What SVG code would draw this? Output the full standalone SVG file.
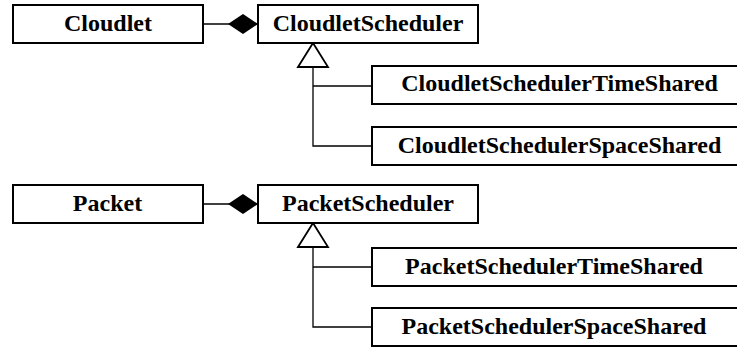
<svg xmlns="http://www.w3.org/2000/svg" width="737" height="348" viewBox="0 0 737 348">
<defs>
<style>
.box{fill:#fff;stroke:#000;stroke-width:2}
.lbl{font-family:'Liberation Serif','Times New Roman','DejaVu Serif',serif;font-weight:700;font-size:24px;fill:#000;text-anchor:middle}
.conn{fill:none;stroke:#000;stroke-width:1.3}
</style>
<marker id="diamond" markerUnits="userSpaceOnUse" viewBox="0 0 30 20" refX="30" refY="10" markerWidth="30" markerHeight="20" orient="auto">
<path d="M0,10 L15,0 L30,10 L15,20 Z" fill="#000"/>
</marker>
<marker id="gen" markerUnits="userSpaceOnUse" viewBox="-2 -2 28 34" refX="24" refY="15" markerWidth="28" markerHeight="34" orient="auto">
<path d="M0,0 L24,15 L0,30 Z" fill="#fff" stroke="#000" stroke-width="1.8"/>
</marker>
</defs>
<g id="connectors">
<path class="conn" d="M203,24 H258" marker-end="url(#diamond)"/>
<path class="conn" d="M372,146 H313 V43" marker-end="url(#gen)"/>
<path class="conn" d="M372,86 H313"/>
<path class="conn" d="M203,204 H258" marker-end="url(#diamond)"/>
<path class="conn" d="M372,327 H313 V223" marker-end="url(#gen)"/>
<path class="conn" d="M372,267 H313"/>
</g>
<g id="Cloudlet"><rect class="box" x="13" y="5" width="190" height="38"/><text class="lbl" x="108" y="31">Cloudlet</text></g>
<g id="CloudletScheduler"><rect class="box" x="258" y="5" width="220" height="38"/><text class="lbl" x="368" y="31">CloudletScheduler</text></g>
<g id="CloudletSchedulerTimeShared"><rect class="box" x="372" y="66" width="366" height="38"/><text class="lbl" x="559.5" y="91">CloudletSchedulerTimeShared</text></g>
<g id="CloudletSchedulerSpaceShared"><rect class="box" x="372" y="127" width="366" height="38"/><text class="lbl" x="559.5" y="153">CloudletSchedulerSpaceShared</text></g>
<g id="Packet"><rect class="box" x="13" y="185" width="190" height="38"/><text class="lbl" x="107.5" y="211">Packet</text></g>
<g id="PacketScheduler"><rect class="box" x="258" y="185" width="220" height="38"/><text class="lbl" x="368" y="211">PacketScheduler</text></g>
<g id="PacketSchedulerTimeShared"><rect class="box" x="372" y="248" width="366" height="38"/><text class="lbl" x="554" y="273.5">PacketSchedulerTimeShared</text></g>
<g id="PacketSchedulerSpaceShared"><rect class="box" x="372" y="308" width="366" height="38"/><text class="lbl" x="554" y="334">PacketSchedulerSpaceShared</text></g>
</svg>
